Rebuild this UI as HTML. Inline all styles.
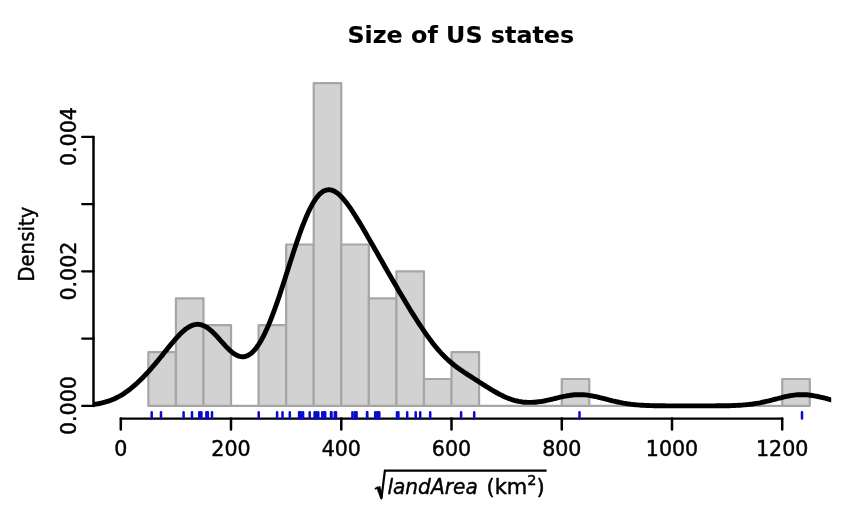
<!DOCTYPE html>
<html><head><meta charset="utf-8"><title>Size of US states</title>
<style>
html,body{margin:0;padding:0;background:#fff;}
svg{display:block;font-family:"DejaVu Sans","Liberation Sans",sans-serif;}
text{stroke:#000;stroke-width:0.45px;stroke-linejoin:round;}
</style></head><body>
<svg width="854" height="512" viewBox="0 0 854 512">
<rect width="854" height="512" fill="#fff"/>
<g fill="#d2d2d2" stroke="#a6a6a6" stroke-width="2.2" stroke-linejoin="round" stroke-linecap="round">
<rect x="148.36" y="352.10" width="27.56" height="53.80"/>
<rect x="175.92" y="298.30" width="27.56" height="107.60"/>
<rect x="203.48" y="325.20" width="27.56" height="80.70"/>
<path d="M231.04 405.90H258.60"/>
<rect x="258.60" y="325.20" width="27.56" height="80.70"/>
<rect x="286.16" y="244.50" width="27.56" height="161.40"/>
<rect x="313.72" y="83.10" width="27.56" height="322.80"/>
<rect x="341.28" y="244.50" width="27.56" height="161.40"/>
<rect x="368.84" y="298.30" width="27.56" height="107.60"/>
<rect x="396.40" y="271.40" width="27.56" height="134.50"/>
<rect x="423.96" y="379.00" width="27.56" height="26.90"/>
<rect x="451.52" y="352.10" width="27.56" height="53.80"/>
<path d="M479.08 405.90H506.64"/>
<path d="M506.64 405.90H534.20"/>
<path d="M534.20 405.90H561.76"/>
<rect x="561.76" y="379.00" width="27.56" height="26.90"/>
<path d="M589.32 405.90H616.88"/>
<path d="M616.88 405.90H644.44"/>
<path d="M644.44 405.90H672.00"/>
<path d="M672.00 405.90H699.56"/>
<path d="M699.56 405.90H727.12"/>
<path d="M727.12 405.90H754.68"/>
<path d="M754.68 405.90H782.24"/>
<rect x="782.24" y="379.00" width="27.56" height="26.90"/>
</g>
<clipPath id="plotclip"><rect x="93.0" y="60" width="738.2" height="352"/></clipPath>
<polyline clip-path="url(#plotclip)" points="85.0,405.3 86.8,405.1 88.6,405.0 90.4,404.8 92.2,404.6 94.0,404.4 95.8,404.1 97.6,403.8 99.4,403.5 101.2,403.1 103.0,402.7 104.8,402.2 106.6,401.7 108.4,401.2 110.2,400.5 112.0,399.8 113.8,399.1 115.6,398.2 117.4,397.3 119.2,396.4 121.0,395.4 122.8,394.3 124.6,393.1 126.4,391.8 128.2,390.5 130.0,389.2 131.8,387.7 133.6,386.2 135.4,384.6 137.2,383.0 139.0,381.3 140.8,379.6 142.6,377.8 144.4,375.9 146.2,374.0 148.0,372.1 149.8,370.1 151.6,368.0 153.4,365.9 155.2,363.8 157.0,361.7 158.8,359.5 160.6,357.3 162.4,355.1 164.2,352.8 166.0,350.6 167.8,348.3 169.6,346.1 171.4,343.9 173.2,341.8 175.0,339.7 176.8,337.6 178.6,335.7 180.4,333.8 182.2,332.1 184.0,330.5 185.8,329.0 187.6,327.8 189.4,326.7 191.2,325.8 193.0,325.1 194.8,324.6 196.6,324.4 198.4,324.3 200.2,324.6 202.0,325.0 203.8,325.7 205.6,326.6 207.4,327.7 209.2,329.1 211.0,330.6 212.8,332.2 214.6,334.0 216.4,335.9 218.2,337.8 220.0,339.9 221.8,341.9 223.6,343.9 225.4,345.9 227.2,347.8 229.0,349.5 230.8,351.2 232.6,352.7 234.4,353.9 236.2,355.0 238.0,355.9 239.8,356.4 241.6,356.7 243.4,356.8 245.2,356.5 247.0,355.9 248.8,355.0 250.6,353.8 252.4,352.3 254.2,350.4 256.0,348.3 257.8,345.8 259.6,343.0 261.4,339.9 263.2,336.6 265.0,332.9 266.8,329.0 268.6,324.9 270.4,320.5 272.2,315.9 274.0,311.1 275.8,306.1 277.6,301.0 279.4,295.7 281.2,290.3 283.0,284.8 284.8,279.2 286.6,273.6 288.4,267.9 290.2,262.3 292.0,256.7 293.8,251.2 295.6,245.7 297.4,240.4 299.2,235.2 301.0,230.2 302.8,225.4 304.6,220.9 306.4,216.5 308.2,212.5 310.0,208.7 311.8,205.3 313.6,202.1 315.4,199.4 317.2,196.9 319.0,194.8 320.8,193.1 322.6,191.7 324.4,190.7 326.2,190.1 328.0,189.8 329.8,189.8 331.6,190.1 333.4,190.8 335.2,191.7 337.0,192.9 338.8,194.3 340.6,196.0 342.4,197.9 344.2,200.0 346.0,202.2 347.8,204.6 349.6,207.1 351.4,209.7 353.2,212.5 355.0,215.3 356.8,218.2 358.6,221.1 360.4,224.1 362.2,227.1 364.0,230.2 365.8,233.3 367.6,236.4 369.4,239.5 371.2,242.7 373.0,245.8 374.8,249.0 376.6,252.1 378.4,255.3 380.2,258.5 382.0,261.6 383.8,264.8 385.6,267.9 387.4,271.1 389.2,274.2 391.0,277.3 392.8,280.4 394.6,283.5 396.4,286.6 398.2,289.7 400.0,292.8 401.8,295.8 403.6,298.8 405.4,301.8 407.2,304.8 409.0,307.7 410.8,310.7 412.6,313.6 414.4,316.4 416.2,319.3 418.0,322.1 419.8,324.8 421.6,327.5 423.4,330.2 425.2,332.8 427.0,335.4 428.8,337.9 430.6,340.3 432.4,342.7 434.2,345.0 436.0,347.2 437.8,349.3 439.6,351.4 441.4,353.4 443.2,355.3 445.0,357.1 446.8,358.8 448.6,360.5 450.4,362.0 452.2,363.5 454.0,365.0 455.8,366.4 457.6,367.7 459.4,369.0 461.2,370.3 463.0,371.5 464.8,372.7 466.6,373.9 468.4,375.1 470.2,376.2 472.0,377.4 473.8,378.5 475.6,379.7 477.4,380.8 479.2,382.0 481.0,383.1 482.8,384.3 484.6,385.4 486.4,386.6 488.2,387.7 490.0,388.8 491.8,389.9 493.6,391.0 495.4,392.0 497.2,393.0 499.0,394.0 500.8,394.9 502.6,395.8 504.4,396.7 506.2,397.5 508.0,398.2 509.8,398.9 511.6,399.5 513.4,400.1 515.2,400.6 517.0,401.0 518.8,401.4 520.6,401.7 522.4,402.0 524.2,402.2 526.0,402.3 527.8,402.4 529.6,402.4 531.4,402.4 533.2,402.3 535.0,402.2 536.8,402.0 538.6,401.8 540.4,401.6 542.2,401.3 544.0,401.0 545.8,400.6 547.6,400.2 549.4,399.8 551.2,399.4 553.0,399.0 554.8,398.5 556.6,398.1 558.4,397.7 560.2,397.2 562.0,396.8 563.8,396.4 565.6,396.1 567.4,395.7 569.2,395.5 571.0,395.2 572.8,395.0 574.6,394.8 576.4,394.7 578.2,394.7 580.0,394.6 581.8,394.7 583.6,394.8 585.4,394.9 587.2,395.1 589.0,395.4 590.8,395.6 592.6,396.0 594.4,396.3 596.2,396.7 598.0,397.1 599.8,397.6 601.6,398.0 603.4,398.5 605.2,398.9 607.0,399.4 608.8,399.9 610.6,400.3 612.4,400.8 614.2,401.2 616.0,401.6 617.8,402.0 619.6,402.4 621.4,402.7 623.2,403.1 625.0,403.4 626.8,403.7 628.6,403.9 630.4,404.2 632.2,404.4 634.0,404.6 635.8,404.8 637.6,404.9 639.4,405.1 641.2,405.2 643.0,405.3 644.8,405.4 646.6,405.5 648.4,405.5 650.2,405.6 652.0,405.6 653.8,405.7 655.6,405.7 657.4,405.8 659.2,405.8 661.0,405.8 662.8,405.8 664.6,405.8 666.4,405.9 668.2,405.9 670.0,405.9 671.8,405.9 673.6,405.9 675.4,405.9 677.2,405.9 679.0,405.9 680.8,405.9 682.6,405.9 684.4,405.9 686.2,405.9 688.0,405.9 689.8,405.9 691.6,405.9 693.4,405.9 695.2,405.9 697.0,405.9 698.8,405.9 700.6,405.9 702.4,405.9 704.2,405.9 706.0,405.9 707.8,405.9 709.6,405.9 711.4,405.9 713.2,405.9 715.0,405.9 716.8,405.8 718.6,405.8 720.4,405.8 722.2,405.8 724.0,405.8 725.8,405.7 727.6,405.7 729.4,405.7 731.2,405.6 733.0,405.5 734.8,405.5 736.6,405.4 738.4,405.3 740.2,405.2 742.0,405.1 743.8,404.9 745.6,404.8 747.4,404.6 749.2,404.4 751.0,404.2 752.8,404.0 754.6,403.7 756.4,403.4 758.2,403.1 760.0,402.8 761.8,402.4 763.6,402.0 765.4,401.6 767.2,401.2 769.0,400.8 770.8,400.3 772.6,399.9 774.4,399.4 776.2,399.0 778.0,398.5 779.8,398.0 781.6,397.6 783.4,397.1 785.2,396.7 787.0,396.3 788.8,396.0 790.6,395.7 792.4,395.4 794.2,395.1 796.0,394.9 797.8,394.8 799.6,394.7 801.4,394.7 803.2,394.7 805.0,394.7 806.8,394.8 808.6,395.0 810.4,395.2 812.2,395.5 814.0,395.8 815.8,396.1 817.6,396.5 819.4,396.9 821.2,397.3 823.0,397.7 824.8,398.2 826.6,398.6 828.4,399.1 830.2,399.6 832.0,400.0 833.8,400.5 835.6,400.9 837.4,401.3 839.2,401.8" fill="none" stroke="#000" stroke-width="4.9" stroke-linejoin="round" stroke-linecap="butt"/>
<path d="M93.5 136.9V405.9" stroke="#000" stroke-width="2.5" fill="none" stroke-linecap="round"/>
<path d="M93.5 405.9H82.2 M93.5 338.6H82.2 M93.5 271.4H82.2 M93.5 204.1H82.2 M93.5 136.9H82.2" stroke="#000" stroke-width="2.3" fill="none" stroke-linecap="round"/>
<path d="M120.8 418.6H782.2" stroke="#000" stroke-width="2.4" fill="none" stroke-linecap="round"/>
<path d="M120.8 418.6V429.6 M231.0 418.6V429.6 M341.3 418.6V429.6 M451.5 418.6V429.6 M561.8 418.6V429.6 M672.0 418.6V429.6 M782.2 418.6V429.6" stroke="#000" stroke-width="2.5" fill="none" stroke-linecap="round"/>
<path d="M151.7 412.2V418.6 M161.0 412.2V418.6 M183.6 412.2V418.6 M192.0 412.2V418.6 M199.3 412.2V418.6 M201.4 412.2V418.6 M206.4 412.2V418.6 M207.8 412.2V418.6 M212.0 412.2V418.6 M258.7 412.2V418.6 M277.1 412.2V418.6 M282.5 412.2V418.6 M289.8 412.2V418.6 M299.1 412.2V418.6 M300.0 412.2V418.6 M300.9 412.2V418.6 M303.1 412.2V418.6 M309.7 412.2V418.6 M314.6 412.2V418.6 M316.2 412.2V418.6 M318.3 412.2V418.6 M322.3 412.2V418.6 M324.2 412.2V418.6 M325.2 412.2V418.6 M331.0 412.2V418.6 M331.3 412.2V418.6 M331.5 412.2V418.6 M334.8 412.2V418.6 M335.5 412.2V418.6 M336.0 412.2V418.6 M352.4 412.2V418.6 M355.0 412.2V418.6 M355.4 412.2V418.6 M356.6 412.2V418.6 M367.0 412.2V418.6 M367.3 412.2V418.6 M375.2 412.2V418.6 M377.2 412.2V418.6 M378.0 412.2V418.6 M379.3 412.2V418.6 M397.0 412.2V418.6 M398.4 412.2V418.6 M407.2 412.2V418.6 M415.7 412.2V418.6 M420.2 412.2V418.6 M430.2 412.2V418.6 M461.1 412.2V418.6 M474.2 412.2V418.6 M579.5 412.2V418.6 M802.0 412.2V418.6" stroke="#0a0acd" stroke-width="2.5" fill="none" stroke-linecap="round"/>
<text transform="translate(460.8,43.2) scale(1.018,1)" text-anchor="middle" font-size="23.4" font-weight="bold" style="stroke-width:0.1px">Size of US states</text>
<g font-size="20.6" text-anchor="middle">
<text x="120.8" y="455.6">0</text>
<text x="231.0" y="455.6">200</text>
<text x="341.3" y="455.6">400</text>
<text x="451.5" y="455.6">600</text>
<text x="561.8" y="455.6">800</text>
<text x="672.0" y="455.6">1000</text>
<text x="782.2" y="455.6">1200</text>
</g>
<g font-size="20.6" text-anchor="middle">
<text transform="translate(75.6,405.6) rotate(-90)">0.000</text>
<text transform="translate(75.6,271.1) rotate(-90)">0.002</text>
<text transform="translate(75.6,136.6) rotate(-90)">0.004</text>
<text transform="translate(33.8,244.2) rotate(-90) scale(0.96,1)">Density</text>
</g>
<g font-size="21" fill="#000">
<path d="M374.9 488.9L378.2 487.1" fill="none" stroke="#000" stroke-width="1.7"/>
<path d="M376.7 488L380 486.1L382.6 495L381.5 499.6L380.4 498.2Z" fill="#000" stroke="#000" stroke-width="0.4" stroke-linejoin="round"/>
<path d="M381.4 498.6L384.9 470.6H546.6" fill="none" stroke="#000" stroke-width="2.2" stroke-linejoin="miter"/>
<text transform="translate(387.4,493.9) scale(0.96,1)" font-style="italic">landArea</text>
<text x="486.5" y="493.9">(km<tspan font-size="14.5" dy="-8.5">2</tspan><tspan dy="8.5">)</tspan></text>
</g>
</svg>
</body></html>
